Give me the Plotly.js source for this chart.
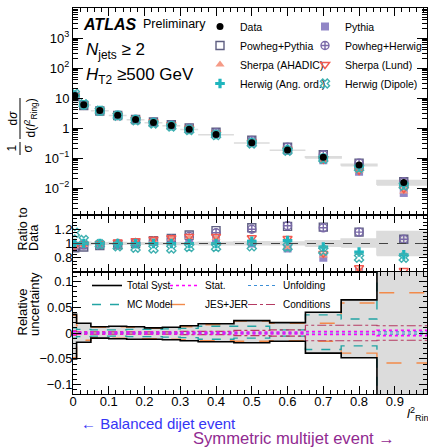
<!DOCTYPE html>
<html><head><meta charset="utf-8">
<script src="https://cdn.plot.ly/plotly-3.0.1.min.js"></script>
<style>html,body{margin:0;padding:0;background:#fff;}#chart{width:428px;height:448px;}</style>
</head><body><div id="chart"></div>
<script>
// l^2_Ring binning
const binEdges   = [0, 0.01, 0.05, 0.1, 0.15, 0.2, 0.25, 0.3, 0.35, 0.45, 0.55, 0.65, 0.75, 0.85, 1.0];
const binCentres = [0.005, 0.03, 0.075, 0.125, 0.175, 0.225, 0.275, 0.325, 0.4, 0.5, 0.6, 0.7, 0.8, 0.925];

// unfolded normalised cross-section
const dataXsec = [12, 5.9, 3.8, 2.65, 1.92, 1.52, 1.2, 0.9, 0.61, 0.32, 0.184, 0.105, 0.058, 0.0152];

// MC / Data ratios
const ratioPythia       = [0.95, 0.97, 0.99, 1.00, 1.01, 1.02, 1.03, 1.04, 1.05, 1.00, 0.93, 0.80, 0.60, 0.45];
const ratioPowhegPythia = [0.94, 0.95, 0.97, 0.98, 1.00, 1.04, 1.07, 1.12, 1.18, 1.22, 1.24, 1.23, 1.16, 1.06];
const ratioPowhegHerwig = [0.97, 0.98, 0.98, 0.99, 1.01, 1.03, 1.06, 1.10, 1.15, 1.20, 1.25, 1.22, 1.16, 1.06];
const ratioSherpaAhadic = [0.96, 0.98, 1.00, 1.02, 1.03, 1.05, 1.07, 1.09, 1.08, 1.03, 0.95, 0.83, 0.63, 0.50];
const ratioSherpaLund   = [0.97, 0.99, 1.00, 1.02, 1.04, 1.06, 1.08, 1.10, 1.10, 1.08, 1.07, 0.86, 0.66, 0.62];
const ratioHerwigAng    = [1.00, 1.00, 1.00, 1.00, 1.00, 1.00, 1.00, 1.00, 1.00, 1.03, 1.04, 0.95, 0.88, 0.84];
const ratioHerwigDipole = [1.15, 1.05, 0.99, 0.96, 0.94, 0.93, 0.93, 0.95, 0.95, 0.96, 0.95, 0.90, 0.80, 0.80];

// relative uncertainties (up / down magnitudes)
const totSystUp = [0.036, 0.019, 0.012, 0.013, 0.012, 0.010, 0.011, 0.014, 0.018, 0.024, 0.020, 0.040, 0.064, 0.17];
const totSystDn = [0.050, 0.018, 0.010, 0.011, 0.012, 0.012, 0.013, 0.015, 0.017, 0.019, 0.016, 0.039, 0.048, 0.17];
const statUnc   = [0.003, 0.002, 0.002, 0.002, 0.002, 0.002, 0.002, 0.002, 0.002, 0.002, 0.002, 0.003, 0.003, 0.005];
const unfoldUnc = [0.002, 0.001, 0.001, 0.001, 0.001, 0.001, 0.001, 0.001, 0.001, 0.001, 0.001, 0.002, 0.002, 0.002];
const mcModelUp = [0.010, 0.007, 0.006, 0.006, 0.007, 0.007, 0.008, 0.009, 0.013, 0.013, 0.006, 0.035, 0.027, 0.15];
const mcModelDn = [0.010, 0.007, 0.006, 0.006, 0.007, 0.007, 0.008, 0.009, 0.012, 0.010, 0.006, 0.032, 0.025, 0.15];
const jesJerUp  = [0.034, 0.014, 0.011, 0.012, 0.011, 0.009, 0.010, 0.012, 0.016, 0.023, 0.019, 0.019, 0.058, 0.078];
const jesJerDn  = [0.048, 0.014, 0.009, 0.010, 0.011, 0.011, 0.012, 0.013, 0.015, 0.016, 0.015, 0.016, 0.039, 0.058];
const condUnc   = [0.004, 0.002, 0.002, 0.002, 0.002, 0.002, 0.002, 0.003, 0.003, 0.005, 0.006, 0.015, 0.015, 0.014];

const FONT = 'Liberation Sans, Arial, Helvetica, sans-serif';

// pixel helpers for text placement (plot area 73..427 x 8..394)
const L = 73, R = 427, T = 8, B = 394;
const px2x = p => (p - L) / (R - L);
const py2y = p => (B - p) / (B - T);

const mcModels = [
  {name: 'Pythia',            ratio: ratioPythia,       symbol: 'square',            color: '#9186c6', legend: 'legend2', rank: 11},
  {name: 'Powheg+Pythia',     ratio: ratioPowhegPythia, symbol: 'square-open',       color: '#5f5f82', legend: 'legend',  rank: 2},
  {name: 'Powheg+Herwig',     ratio: ratioPowhegHerwig, symbol: 'circle-cross-open', color: '#7a6aa8', legend: 'legend2', rank: 12},
  {name: 'Sherpa (AHADIC)',   ratio: ratioSherpaAhadic, symbol: 'triangle-up',       color: '#f59a86', legend: 'legend',  rank: 3},
  {name: 'Sherpa (Lund)',     ratio: ratioSherpaLund,   symbol: 'triangle-down-open',color: '#f25a50', legend: 'legend2', rank: 13},
  {name: 'Herwig (Ang. ord.)',ratio: ratioHerwigAng,    symbol: 'cross',             color: '#1fb5bd', legend: 'legend',  rank: 4},
  {name: 'Herwig (Dipole)',   ratio: ratioHerwigDipole, symbol: 'x-open',            color: '#3fb0b0', legend: 'legend2', rank: 14}
];

const traces = [];

// polygon helper: closed boxes per bin, null-separated
function boxes(lo, hi) {
  const xs = [], ys = [];
  for (let i = 0; i < binCentres.length; i++) {
    const a = binEdges[i], b = binEdges[i + 1];
    xs.push(a, b, b, a, a, null);
    ys.push(lo[i], lo[i], hi[i], hi[i], lo[i], null);
  }
  return {x: xs, y: ys};
}

// data uncertainty band, main panel
const bandMain = boxes(dataXsec.map((v, i) => v * (1 - totSystDn[i])), dataXsec.map((v, i) => v * (1 + totSystUp[i])));
traces.push({x: bandMain.x, y: bandMain.y, xaxis: 'x', yaxis: 'y', mode: 'lines', fill: 'toself',
  fillcolor: '#dcdcdc', line: {color: '#dcdcdc', width: 1.5}, showlegend: false, hoverinfo: 'skip'});

// data uncertainty band, ratio panel
const bandRatio = boxes(totSystDn.map(v => 1 - v), totSystUp.map(v => 1 + v));
traces.push({x: bandRatio.x, y: bandRatio.y, xaxis: 'x2', yaxis: 'y2', mode: 'lines', fill: 'toself',
  fillcolor: '#dcdcdc', line: {color: '#dcdcdc', width: 1.5}, showlegend: false, hoverinfo: 'skip'});

// MC predictions: main panel and ratio panel
mcModels.forEach(m => {
  const open = m.symbol.indexOf('open') >= 0;
  const marker = {symbol: m.symbol, size: 8, color: m.color, line: {color: m.color, width: open ? 1.4 : 0}};
  traces.push({x: binCentres, y: dataXsec.map((v, i) => v * m.ratio[i]), xaxis: 'x', yaxis: 'y',
    mode: 'markers', name: m.name, marker: marker, legend: m.legend, legendrank: m.rank});
  traces.push({x: binCentres, y: m.ratio, xaxis: 'x2', yaxis: 'y2', mode: 'markers',
    marker: marker, showlegend: false});
});

// data points
traces.push({x: binCentres, y: dataXsec, xaxis: 'x', yaxis: 'y', mode: 'markers', name: 'Data',
  marker: {symbol: 'circle', size: 7, color: '#000'}, legend: 'legend', legendrank: 1});

// step-line helper for the uncertainty panel
function stepY(vals, sign) { const y = vals.map(v => sign * v); y.push(y[y.length - 1]); return y; }
function stepTrace(vals, sign, name, line, legend) {
  return {x: binEdges, y: stepY(vals, sign), xaxis: 'x3', yaxis: 'y3', mode: 'lines',
    line: Object.assign({shape: 'hv'}, line), name: name, legend: legend, showlegend: false, hoverinfo: 'skip'};
}

// total systematic fill
traces.push({x: binEdges, y: stepY(totSystDn, -1), xaxis: 'x3', yaxis: 'y3', mode: 'lines',
  line: {shape: 'hv', width: 0, color: 'rgba(0,0,0,0)'}, showlegend: false, hoverinfo: 'skip'});
traces.push({x: binEdges, y: stepY(totSystUp, 1), xaxis: 'x3', yaxis: 'y3', mode: 'lines', fill: 'tonexty',
  fillcolor: '#dcdcdc', line: {shape: 'hv', width: 0, color: 'rgba(0,0,0,0)'}, showlegend: false, hoverinfo: 'skip'});

const lnTot  = {color: '#000', width: 1.6};
const lnStat = {color: '#ff00ff', width: 1.6, dash: 'dot'};
const lnUnf  = {color: '#3d8fd6', width: 1.2, dash: 'dot'};
const lnMC   = {color: '#23a4a4', width: 1.4, dash: 'dash'};
const lnJES  = {color: '#f28a4a', width: 1.4, dash: 'longdash'};
const lnCond = {color: '#b53a62', width: 1.2, dash: 'dashdot'};

traces.push(stepTrace(jesJerUp, 1, 'JES+JER', lnJES, 'legend4'));
traces.push(stepTrace(jesJerDn, -1, 'JES+JER', lnJES, 'legend4'));
traces.push(stepTrace(mcModelUp, 1, 'MC Model', lnMC, 'legend3'));
traces.push(stepTrace(mcModelDn, -1, 'MC Model', lnMC, 'legend3'));
traces.push(stepTrace(condUnc, 1, 'Conditions', lnCond, 'legend5'));
traces.push(stepTrace(condUnc, -1, 'Conditions', lnCond, 'legend5'));
traces.push(stepTrace(unfoldUnc, 1, 'Unfolding', lnUnf, 'legend5'));
traces.push(stepTrace(unfoldUnc, -1, 'Unfolding', lnUnf, 'legend5'));
traces.push(stepTrace(statUnc, 1, 'Stat.', lnStat, 'legend4'));
traces.push(stepTrace(statUnc, -1, 'Stat.', lnStat, 'legend4'));
traces.push(stepTrace(totSystUp, 1, 'Total Syst.', lnTot, 'legend3'));
traces.push(stepTrace(totSystDn, -1, 'Total Syst.', lnTot, 'legend3'));

// legend-only entries for the uncertainty panel, in display order
[['Total Syst.', lnTot, 'legend3', 1], ['MC Model', lnMC, 'legend3', 2],
 ['Stat.', lnStat, 'legend4', 1], ['JES+JER', lnJES, 'legend4', 2],
 ['Unfolding', lnUnf, 'legend5', 1], ['Conditions', lnCond, 'legend5', 2]].forEach(e => {
  traces.push({x: [null], y: [null], xaxis: 'x3', yaxis: 'y3', mode: 'lines', name: e[0], line: e[1],
    legend: e[2], legendrank: e[3], showlegend: true});
});

// axis styling
const tickFont = {family: FONT, size: 13, color: '#000'};
function xAx(domainAnchor, labels) {
  return {range: [0, 0.99], anchor: domainAnchor, showgrid: false, zeroline: false,
    showline: true, linecolor: '#000', linewidth: 1, mirror: 'allticks',
    ticks: 'inside', ticklen: 8, tickcolor: '#000', dtick: 0.1, tick0: 0,
    minor: {dtick: 0.02, ticklen: 4, ticks: 'inside', tickcolor: '#000', showgrid: false},
    showticklabels: labels, tickfont: tickFont, ticklabelstandoff: -5};
}
const logMinor = [];
for (let k = -3; k < 4; k++) for (let j = 2; j <= 9; j++) logMinor.push(j * Math.pow(10, k));

function legendAt(x, y, size, anchor) {
  return {x: px2x(x), xanchor: anchor || 'left', y: py2y(y), yanchor: 'top', bgcolor: 'rgba(0,0,0,0)',
    font: {family: FONT, size: size, color: '#000'}, tracegroupgap: 0, itemwidth: 30, traceorder: 'normal'};
}

const yCommon = {showgrid: false, zeroline: false, showline: true, linecolor: '#000', mirror: 'allticks',
  ticks: 'inside', tickcolor: '#000', tickfont: tickFont, ticklabelstandoff: -3};

const layout = {
  width: 428, height: 448,
  margin: {l: L, r: 428 - R, t: T, b: 448 - B},
  paper_bgcolor: '#fff', plot_bgcolor: '#fff',
  font: {family: FONT, color: '#000'},
  xaxis:  Object.assign(xAx('y', false), {matches: 'x3'}),
  xaxis2: Object.assign(xAx('y2', false), {matches: 'x3'}),
  xaxis3: xAx('y3', true),
  yaxis: Object.assign({}, yCommon, {domain: [py2y(215), 1], type: 'log', range: [-2.9, 4.0], anchor: 'x',
    ticklen: 10, ticklabelstandoff: 0, tickmode: 'array', tickvals: [0.01, 0.1, 1, 10, 100, 1000],
    ticktext: ['10<sup>−2</sup>', '10<sup>−1</sup>', '1', '10', '10<sup>2</sup>', '10<sup>3</sup>'],
    minor: {tickmode: 'array', tickvals: logMinor, ticklen: 5, ticks: 'inside', tickcolor: '#000'}}),
  yaxis2: Object.assign({}, yCommon, {domain: [py2y(272), py2y(215)], range: [0.6, 1.4], anchor: 'x2',
    ticklen: 8, tickmode: 'array', tickvals: [0.8, 1, 1.2], ticktext: ['0.8', '1', '1.2'],
    minor: {tickmode: 'array', tickvals: [0.65, 0.7, 0.75, 0.85, 0.9, 0.95, 1.05, 1.1, 1.15, 1.25, 1.3, 1.35], ticklen: 4, ticks: 'inside', tickcolor: '#000'}}),
  yaxis3: Object.assign({}, yCommon, {domain: [0, py2y(272)], range: [-0.118, 0.118], anchor: 'x3',
    ticklen: 8, dtick: 0.05, tick0: 0,
    minor: {dtick: 0.01, ticklen: 4, ticks: 'inside', tickcolor: '#000'}}),
  showlegend: true,
  legend:  legendAt(200, 12, 10.5),
  legend2: legendAt(R, 12, 10.5, 'right'),
  legend3: legendAt(87, 271, 10),
  legend4: legendAt(165, 271, 10),
  legend5: legendAt(243, 271, 10),
  shapes: [
    {type: 'line', xref: 'x2 domain', x0: 0, x1: 1, yref: 'y2', y0: 1, y1: 1,
      line: {color: '#444', width: 1, dash: 'dash'}},
    // fraction bars of the y title
    {type: 'line', xref: 'paper', yref: 'paper', x0: px2x(20), x1: px2x(20), y0: py2y(142), y1: py2y(155), line: {color: '#000', width: 1}},
    {type: 'line', xref: 'paper', yref: 'paper', x0: px2x(20), x1: px2x(20), y0: py2y(98), y1: py2y(139), line: {color: '#000', width: 1}}
  ],
  annotations: []
};

const ann = (text, x, y, opts) => layout.annotations.push(Object.assign({
  text: text, xref: 'paper', yref: 'paper', x: px2x(x), y: py2y(y), showarrow: false,
  xanchor: 'left', yanchor: 'middle', font: {family: FONT, size: 13, color: '#000'}}, opts || {}));

ann('<b><i>ATLAS</i></b>', 81, 24, {font: {family: FONT, size: 16, color: '#000'}});
ann('Preliminary', 141, 24, {font: {family: FONT, size: 12.5, color: '#000'}});
ann('<i>N</i><sub>jets</sub> ≥ 2', 84, 51, {font: {family: FONT, size: 17, color: '#000'}});
ann('<i>H</i><sub>T2</sub> ≥500 GeV', 84, 76, {font: {family: FONT, size: 17, color: '#000'}});

// y titles
const yt = {family: FONT, size: 12, color: '#000'};
ann('1', 12, 148.5, {xanchor: 'center', textangle: -90, font: yt});
ann('σ', 28, 148.5, {xanchor: 'center', textangle: -90, font: yt});
ann('d<i>σ</i>', 12, 118.5, {xanchor: 'center', textangle: -90, font: yt});
ann('d(<i>l</i><sup>2</sup><sub>Ring</sub>)', 30, 118.5, {xanchor: 'center', textangle: -90, font: yt});
ann('Ratio to', 22, 253, {xanchor: 'center', yanchor: 'bottom', textangle: -90, font: {family: FONT, size: 12.5, color: '#000'}});
ann('Data', 34, 253, {xanchor: 'center', yanchor: 'bottom', textangle: -90, font: {family: FONT, size: 12.5, color: '#000'}});
ann('Relative', 22, 338, {xanchor: 'center', yanchor: 'bottom', textangle: -90, font: {family: FONT, size: 13, color: '#000'}});
ann('uncertainty', 34, 338, {xanchor: 'center', yanchor: 'bottom', textangle: -90, font: {family: FONT, size: 13, color: '#000'}});

// x title
ann('<i>l</i><sup>2</sup><sub>Ring</sub>', 405, 414, {font: {family: FONT, size: 13, color: '#000'}});

// direction labels
ann('← Balanced dijet event', 79, 423, {font: {family: FONT, size: 15, color: '#3535f5'}});
ann('Symmetric multijet event →', 191, 438, {font: {family: FONT, size: 16.6, color: '#912a91'}});

Plotly.newPlot('chart', traces, layout, {staticPlot: true, displayModeBar: false});
</script></body></html>
